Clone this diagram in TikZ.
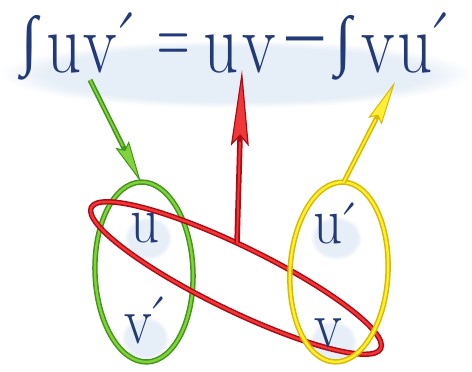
\documentclass[tikz,border=0pt]{standalone}
\usepackage{fontspec}
\newfontfamily\symfnt{Liberation Serif}
\usetikzlibrary{arrows.meta,shapes.geometric,calc,fadings}
\definecolor{ink}{RGB}{35,58,120}
\definecolor{haze}{RGB}{175,200,230}
\definecolor{gdark}{RGB}{65,150,25}
\definecolor{glight}{RGB}{130,210,60}
\definecolor{rdark}{RGB}{175,10,20}
\definecolor{rlight}{RGB}{240,55,55}
\definecolor{ydark}{RGB}{215,185,0}
\definecolor{ylight}{RGB}{255,238,50}
\begin{document}
\begin{tikzpicture}[x=1pt,y=1pt,
  glyph/.style={inner sep=0pt, outer sep=0pt, text=ink, anchor=base},
  big/.style={glyph, font=\fontsize{86}{86}\selectfont, xscale=0.8},
  intg/.style={glyph, anchor=center, font=\symfnt\fontsize{66}{66}\selectfont, xscale=0.9},
  small/.style={glyph, anchor=base west, font=\fontsize{67}{67}\selectfont, xscale=0.85},
  loop/.style={ellipse, inner sep=0pt, outer sep=0pt, line width=1.5pt, double distance=2.4pt},
  glow/.style={fill=haze, fill opacity=0.3, path fading=circle with fuzzy edge 20 percent},
  ]
\fill[white] (0,0) rectangle (472,-372);
\useasboundingbox (0,0) rectangle (472,-372);

% soft bluish haze under the texts
\fill[glow] (236,-74) ellipse [x radius=235, y radius=34];
\fill[glow] (148,-238) ellipse [x radius=24, y radius=22];
\fill[glow] (145,-338) ellipse [x radius=24, y radius=22];
\fill[glow] (336,-238) ellipse [x radius=26, y radius=22];
\fill[glow] (333,-342) ellipse [x radius=24, y radius=22];

% formula
\node[intg] (i1) at (30,-48) {∫};
\node[big] (u1) at (64.5,-72) {u};
\node[big] (v1) at (100,-72) {v};
\node[big] (p1) at (124,-72) {\textasciiacute};
\node[big, xscale=0.65] (eq) at (174,-64.5) {=};
\node[big] (u2) at (221.5,-72) {u};
\node[big] (v2) at (259,-72) {v};
\node[glyph, font=\symfnt\fontsize{80}{80}\selectfont, xscale=1.0] (mi) at (305,-65) {−};
\node[intg] (i2) at (343.5,-48) {∫};
\node[big] (v3) at (378.5,-72) {v};
\node[big] (u3) at (415,-72) {u};
\node[big] (p3) at (438,-72) {\textasciiacute};

% loops
\node[loop, draw=gdark, double=glight, minimum width=98pt, minimum height=180pt, rotate=2] (gE) at (144,-272) {};
\node[loop, draw=rdark, double=rlight, minimum width=322pt, minimum height=64pt, rotate=-26] (rE) at (236,-278) {};
\node[loop, draw=ydark, double=ylight, minimum width=98pt, minimum height=180pt, rotate=-3] (yE) at (339,-272) {};

% letters
\node[small] (uL) at (130,-242) {u};
\node[small] (vL) at (124,-343) {v\kern-10pt\textasciiacute};
\node[small] (uR) at (313,-243) {u\kern-9pt\raisebox{-6pt}{\textasciiacute}};
\node[small] (vR) at (314,-347) {v};

% arrows
\coordinate (gT) at (90,-80);
\coordinate (rT) at (242,-70);
\coordinate (yT) at (395,-82);
\draw[line width=5pt, gdark, -{Stealth[length=42pt, width=15pt, inset=6pt, line width=1pt, fill=glight]}] (gT) -- (gE.north);
\draw[line width=1.8pt, glight, shorten >=40pt] (gT) -- (gE.north);
\draw[line width=5.5pt, rdark, {Stealth[length=76pt, width=18pt, inset=10pt, line width=1.2pt, fill=rlight]}-] (rT) -- (rE);
\draw[line width=2pt, rlight, shorten <=72pt] (rT) -- (rE);
\draw[line width=5pt, ydark, -{Stealth[length=44pt, width=15pt, inset=6pt, line width=1pt, fill=ylight]}] (yE.north) -- (yT);
\draw[line width=1.8pt, ylight, shorten >=42pt] (yE.north) -- (yT);
\end{tikzpicture}
\end{document}
